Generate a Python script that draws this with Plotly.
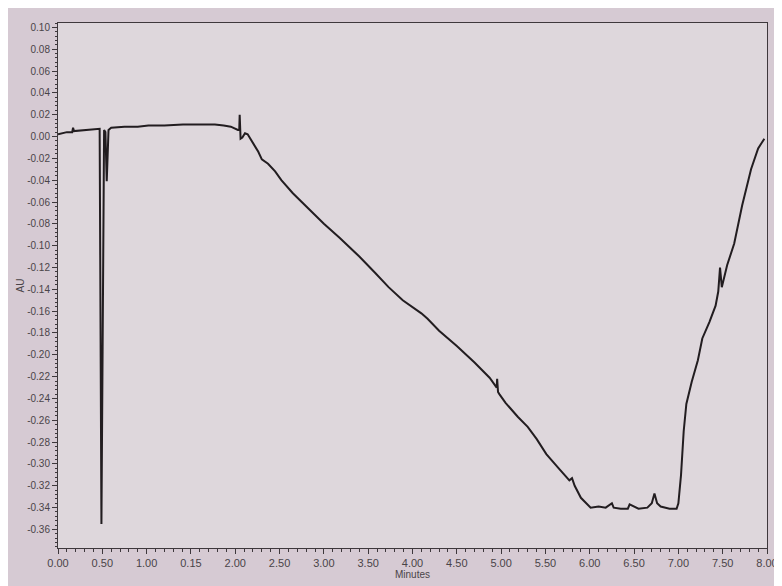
import plotly.graph_objects as go

# Chromatogram trace (minutes, AU)
time_min = [
    0.00, 0.10, 0.16, 0.17, 0.18, 0.30, 0.43, 0.47, 0.49, 0.52, 0.535, 0.55, 0.57,
    0.60, 0.75, 0.90, 1.02, 1.20, 1.41, 1.60, 1.77, 1.87, 1.95, 2.03, 2.045, 2.05,
    2.06, 2.08, 2.11, 2.14, 2.17, 2.20, 2.26, 2.30, 2.37, 2.45, 2.52, 2.65, 2.82,
    3.00, 3.18, 3.40, 3.58, 3.73, 3.89, 4.00, 4.10, 4.17, 4.30, 4.50, 4.70, 4.87,
    4.95, 4.955, 4.965, 4.98, 5.05, 5.19, 5.30, 5.40, 5.51, 5.65, 5.77, 5.80, 5.83,
    5.90, 6.01, 6.10, 6.18, 6.25, 6.27, 6.35, 6.43, 6.45, 6.55, 6.65, 6.70, 6.73,
    6.76, 6.80, 6.90, 6.98, 7.00, 7.03, 7.06, 7.09, 7.15, 7.22, 7.27, 7.35, 7.42,
    7.45, 7.47, 7.49, 7.55, 7.63, 7.72, 7.82, 7.90, 7.97,
]
absorbance_au = [
    0.002, 0.004, 0.004, 0.008, 0.005, 0.006, 0.007, 0.007, -0.355, 0.006, 0.004, -0.041, 0.006,
    0.008, 0.009, 0.009, 0.010, 0.010, 0.011, 0.011, 0.011, 0.010, 0.009, 0.006, 0.006, 0.020,
    -0.002, -0.001, 0.003, 0.002, -0.002, -0.006, -0.014, -0.021, -0.025, -0.032, -0.040, -0.052, -0.066,
    -0.080, -0.093, -0.110, -0.125, -0.138, -0.150, -0.156, -0.162, -0.167, -0.178, -0.192, -0.207, -0.221,
    -0.230, -0.222, -0.234, -0.236, -0.244, -0.257, -0.266, -0.277, -0.291, -0.304, -0.315, -0.313, -0.320,
    -0.331, -0.340, -0.339, -0.340, -0.336, -0.340, -0.341, -0.341, -0.337, -0.341, -0.340, -0.336, -0.327,
    -0.336, -0.339, -0.341, -0.341, -0.336, -0.310, -0.270, -0.245, -0.225, -0.205, -0.185, -0.170, -0.155,
    -0.142, -0.120, -0.138, -0.118, -0.098, -0.063, -0.030, -0.011, -0.002,
]

x_tick_vals = [0.0, 0.5, 1.0, 1.5, 2.0, 2.5, 3.0, 3.5, 4.0, 4.5, 5.0, 5.5, 6.0, 6.5, 7.0, 7.5, 8.0]
x_tick_text = ["0.00", "0.50", "1.00", "0.15", "2.00", "2.50", "3.00", "3.50", "4.00",
               "4.50", "5.00", "5.50", "6.00", "6.50", "7.00", "7.50", "8.00"]
y_tick_vals = [0.10, 0.08, 0.06, 0.04, 0.02, 0.00, -0.02, -0.04, -0.06, -0.08, -0.10,
               -0.12, -0.14, -0.16, -0.18, -0.20, -0.22, -0.24, -0.26, -0.28, -0.30,
               -0.32, -0.34, -0.36]
y_tick_text = [f"{v:.2f}" for v in y_tick_vals]

fig = go.Figure()
fig.add_trace(go.Scatter(
    x=time_min, y=absorbance_au, mode="lines",
    line=dict(color="#221d20", width=2),
    showlegend=False,
))

x_font = dict(family="Liberation Sans, Arial, sans-serif", size=11, color="#4a4448")
y_font = dict(family="Liberation Sans, Arial, sans-serif", size=10, color="#4a4448")

fig.update_layout(
    width=782, height=586,
    margin=dict(l=46, r=19, t=15, b=46),
    paper_bgcolor="#d6cad3",
    plot_bgcolor="#ded7dc",
    font=y_font,
    xaxis=dict(
        range=[0, 8], tickmode="array", tickvals=x_tick_vals, ticktext=x_tick_text,
        showgrid=False, zeroline=False, showline=True, linecolor="#3e383c", linewidth=1,
        mirror=True, ticks="outside", ticklen=5, tickcolor="#3e383c",
        tickfont=x_font,
        minor=dict(dtick=0.1, ticks="outside", ticklen=3, tickcolor="#3e383c"),
        title=dict(text="Minutes", font=y_font, standoff=0),
    ),
    yaxis=dict(
        range=[-0.377, 0.104], tickmode="array", tickvals=y_tick_vals, ticktext=y_tick_text,
        showgrid=False, zeroline=False, showline=True, linecolor="#3e383c", linewidth=1,
        mirror=True, ticks="outside", ticklen=5, tickcolor="#3e383c",
        tickfont=y_font,
        minor=dict(dtick=0.004, ticks="outside", ticklen=2, tickcolor="#3e383c"),
        title=dict(text="AU", font=y_font, standoff=0),
    ),
)

fig.write_html("out.html")
